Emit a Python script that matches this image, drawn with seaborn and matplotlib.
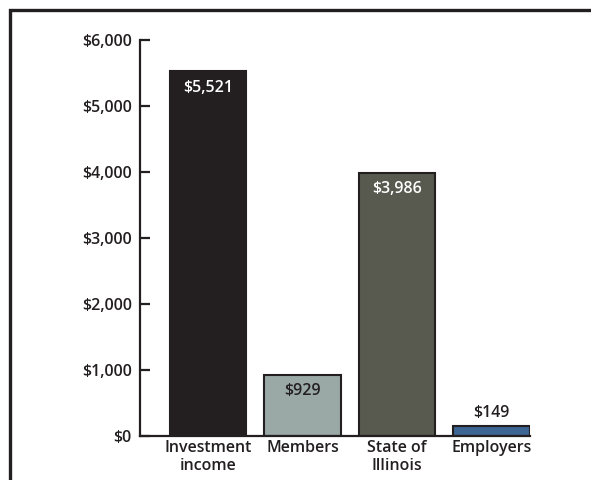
import matplotlib
matplotlib.use('Agg')
import matplotlib.pyplot as plt
from matplotlib.lines import Line2D
import seaborn as sns
import pandas as pd

# Chart data
categories = ['Investment\nincome', 'Members', 'State of\nIllinois', 'Employers']
values = [5521, 929, 3986, 149]
value_labels = ['$5,521', '$929', '$3,986', '$149']
bar_colors = ['#231f20', '#9aa8a6', '#585a50', '#3d6694']
label_colors = ['white', '#231f20', 'white', '#231f20']
label_inside = [True, True, True, False]
y_ticks = [0, 1000, 2000, 3000, 4000, 5000, 6000]
y_tick_labels = ['$0', '$1,000', '$2,000', '$3,000', '$4,000', '$5,000', '$6,000']

sns.set_style('white')
plt.rcParams['font.family'] = ['Open Sans', 'DejaVu Sans']

df = pd.DataFrame({'source': categories, 'amount': values})

fig = plt.figure(figsize=(5.91, 4.80), dpi=100)
ax = fig.add_axes([0.237, 0.092, 0.660, 0.825])

sns.barplot(data=df, x='source', y='amount', hue='source', palette=bar_colors,
            legend=False, width=0.81, edgecolor='#231f20', linewidth=1.5,
            saturation=1, ax=ax)

ax.set_xlim(-0.72, 3.41)
ax.set_ylim(0, 6000)
ax.set_yticks(y_ticks)
ax.set_yticklabels(y_tick_labels, fontsize=11.5, fontweight='semibold', color='#231f20')
ax.tick_params(axis='y', direction='in', length=7, width=1.6, color='#231f20', pad=6, left=True)
ax.tick_params(axis='x', length=0, pad=3)
for lab in ax.get_xticklabels():
    lab.set_fontsize(11.5)
    lab.set_fontweight('semibold')
    lab.set_color('#231f20')
    lab.set_linespacing(1.15)
    lab.set_verticalalignment('top')
ax.set_xlabel('')
ax.set_ylabel('')

sns.despine(ax=ax, top=True, right=True)
for side in ['left', 'bottom']:
    ax.spines[side].set_linewidth(1.6)
    ax.spines[side].set_color('#231f20')

# Value labels
for i, (v, txt, c, inside) in enumerate(zip(values, value_labels, label_colors, label_inside)):
    off = -12 if inside else 9.5
    ax.annotate(txt, (i, v), xytext=(0, off), textcoords='offset points',
                ha='center', va='center', fontsize=11.5, fontweight='semibold', color=c)

# Outer frame: top and left lines only
fx, fy = 0.0172, 1 - 10 / 480
fig.lines.append(Line2D([fx, fx, 1.0], [0.0, fy, fy], transform=fig.transFigure,
                        color='#231f20', linewidth=2.4, solid_joinstyle='miter'))

fig.savefig('out.png', dpi=100)
